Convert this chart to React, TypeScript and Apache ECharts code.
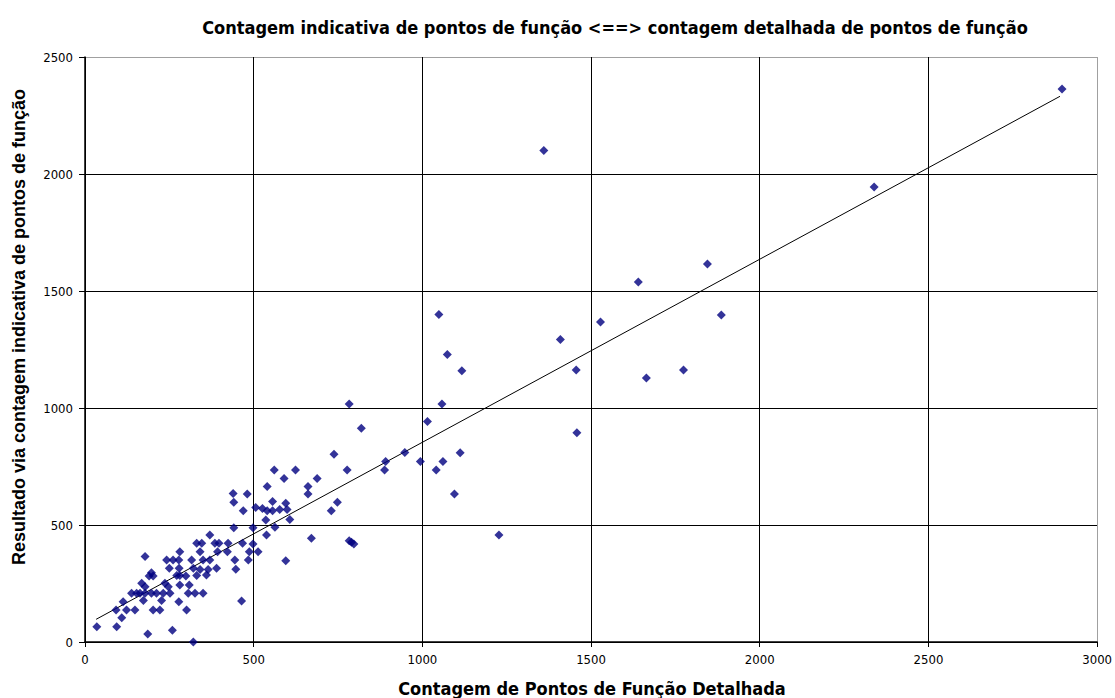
import React, { useEffect, useRef } from "react";
import * as echarts from "echarts";

const chartTitle = "Contagem indicativa de pontos de função <==> contagem detalhada de pontos de função";
const xAxisTitle = "Contagem de Pontos de Função Detalhada";
const yAxisTitle = "Resultado via contagem indicativa de pontos de função";

const xTicks = [0, 500, 1000, 1500, 2000, 2500, 3000];
const yTicks = [0, 500, 1000, 1500, 2000, 2500];

// [detailed count, indicative count]
const lowCluster: [number, number][] = [
  [35, 65], [94, 65], [186, 34], [259, 50], [321, 0],
  [109, 104], [92, 137], [123, 137], [148, 137], [202, 137], [222, 137], [301, 137],
  [113, 172], [173, 177], [227, 177], [278, 172], [464, 175],
  [138, 208], [153, 208], [163, 208], [178, 208], [197, 208], [212, 208], [232, 208], [252, 208], [306, 208], [326, 208], [350, 208],
  [168, 251], [178, 236], [237, 251], [247, 236], [281, 244], [309, 244],
  [190, 282], [202, 282], [197, 296], [272, 284], [281, 284], [299, 282], [331, 284], [360, 286],
  [250, 315], [279, 315], [321, 315], [341, 310], [365, 310], [390, 315], [447, 311],
  [178, 365], [242, 350], [261, 350], [278, 350], [316, 350], [350, 350], [370, 350], [444, 350], [484, 350],
  [281, 386], [341, 386], [393, 386], [422, 386], [487, 386], [513, 386],
  [331, 422], [346, 422], [385, 422], [397, 422], [424, 422], [467, 422], [498, 419],
  [370, 457], [441, 488], [498, 488], [538, 457], [563, 490],
];

const midCluster: [number, number][] = [
  [536, 521], [607, 524], [441, 597], [469, 561], [439, 635], [481, 632],
  [506, 575], [526, 571], [540, 561], [556, 561], [577, 566], [599, 566],
  [556, 600], [595, 593], [540, 664], [561, 735], [624, 735], [590, 699], [595, 347],
  [661, 632], [661, 664], [688, 699], [671, 443], [730, 561], [748, 597], [738, 802],
  [777, 735], [783, 1017], [783, 433], [790, 426], [797, 419], [819, 913],
  [888, 735], [891, 771], [948, 810], [994, 771], [1015, 942], [1041, 735], [1061, 771],
  [1058, 1017], [1095, 632], [1112, 809], [1049, 1400], [1074, 1229], [1117, 1159], [1227, 457],
];

const highPoints: [number, number][] = [
  [1360, 2100], [1409, 1293], [1456, 1162], [1458, 894], [1528, 1368], [1640, 1538],
  [1664, 1128], [1774, 1162], [1845, 1615], [1886, 1397], [2339, 1944], [2896, 2363],
];

// linear trend line endpoints
const trendLine: [number, number][] = [
  [33, 97],
  [2890, 2332],
];

const points = [...lowCluster, ...midCluster, ...highPoints];

const narrowFont = "'DejaVu Sans Condensed', 'Liberation Sans', sans-serif";
const boldFont = "'Liberation Sans', Arial, sans-serif";

export default function App() {
  const ref = useRef<HTMLDivElement>(null);
  useEffect(() => {
    if (!ref.current) return;
    const chart = echarts.init(ref.current, null, { renderer: "svg" });
    chart.setOption({
      animation: false,
      backgroundColor: "#ffffff",
      grid: { left: 85, right: 17, top: 57, bottom: 56 },
      graphic: [
        {
          type: "text",
          x: 615,
          y: 27,
          style: {
            text: chartTitle,
            font: `bold 18px ${narrowFont}`,
            fill: "#000",
            align: "center",
            verticalAlign: "middle",
          },
        },
        {
          type: "text",
          x: 592,
          y: 688,
          style: {
            text: xAxisTitle,
            font: `bold 18px ${narrowFont}`,
            fill: "#000",
            align: "center",
            verticalAlign: "middle",
          },
        },
        {
          type: "text",
          x: 19,
          y: 327,
          rotation: Math.PI / 2,
          style: {
            text: yAxisTitle,
            font: `bold 18px ${boldFont}`,
            fill: "#000",
            align: "center",
            verticalAlign: "middle",
          },
        },
      ],
      xAxis: {
        type: "value",
        min: xTicks[0],
        max: xTicks[xTicks.length - 1],
        interval: 500,
        axisLine: { show: true, onZero: false, lineStyle: { color: "#000", width: 1.5 } },
        axisTick: { show: true, length: 5, lineStyle: { color: "#000" } },
        axisLabel: {
          color: "#000",
          fontSize: 13,
          fontFamily: narrowFont,
          margin: 11,
          formatter: (v: number) => String(v),
        },
        splitLine: {
          show: true,
          lineStyle: { color: ["#000", "#000", "#000", "#000", "#000", "#000", "#a0a0a0"], width: 1 },
        },
      },
      yAxis: {
        type: "value",
        min: yTicks[0],
        max: yTicks[yTicks.length - 1],
        interval: 500,
        axisLine: { show: true, onZero: false, lineStyle: { color: "#000", width: 1.5 } },
        axisTick: { show: true, length: 6, lineStyle: { color: "#000" } },
        axisLabel: {
          color: "#000",
          fontSize: 13,
          fontFamily: narrowFont,
          margin: 12,
          formatter: (v: number) => String(v),
        },
        splitLine: {
          show: true,
          lineStyle: { color: ["#000", "#000", "#000", "#000", "#000", "#a0a0a0"], width: 1 },
        },
      },
      series: [
        {
          type: "line",
          data: trendLine,
          symbol: "none",
          lineStyle: { color: "#000", width: 1 },
          silent: true,
          z: 3,
        },
        {
          type: "scatter",
          data: points,
          symbol: "diamond",
          symbolSize: 9,
          itemStyle: { color: "#000080" },
          z: 4,
        },
      ],
    });
    return () => chart.dispose();
  }, []);
  return <div ref={ref} style={{ width: 1115, height: 698, position: "absolute", left: 0, top: 0 }} />;
}
